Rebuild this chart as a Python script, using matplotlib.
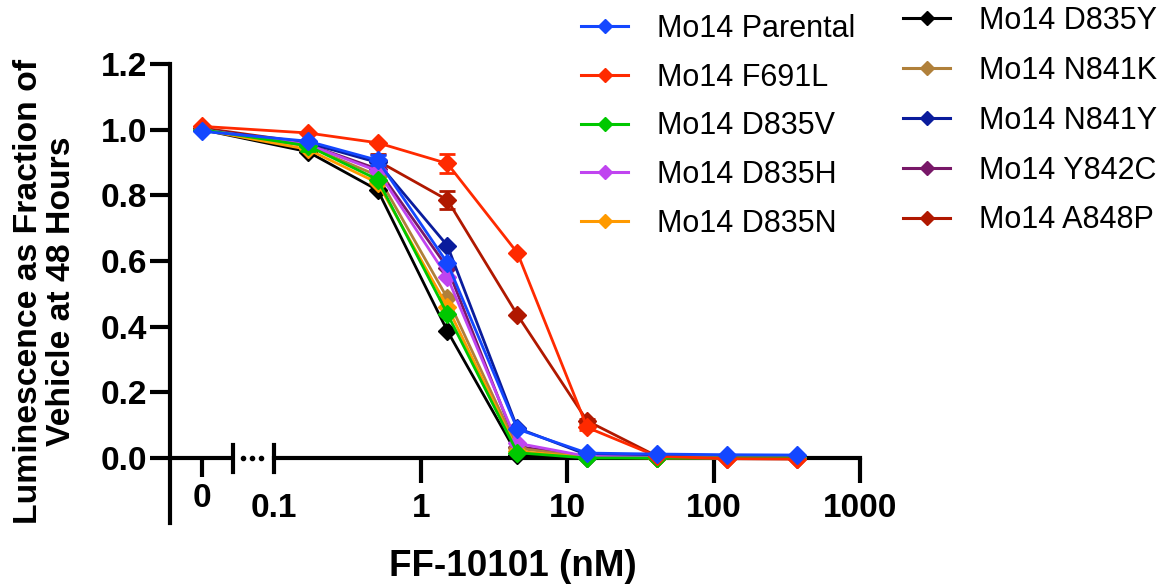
import numpy as np
import matplotlib
matplotlib.use("Agg")
import matplotlib.pyplot as plt
from matplotlib.ticker import FixedLocator, FixedFormatter
from matplotlib.lines import Line2D

plt.rcParams['font.family'] = ['Liberation Sans', 'DejaVu Sans']

# ---------------- data ----------------
conc = [0, 0.169, 0.508, 1.52, 4.57, 13.7, 41.2, 123.5, 370.4]

names = ["Mo14 Parental", "Mo14 F691L", "Mo14 D835V", "Mo14 D835H", "Mo14 D835N",
         "Mo14 D835Y", "Mo14 N841K", "Mo14 N841Y", "Mo14 Y842C", "Mo14 A848P"]
colors = ["#1447ff", "#ff2a00", "#00c800", "#c044f0", "#ff9a00",
          "#000000", "#b0803a", "#0a1c9c", "#781868", "#b01800"]

parental = [0.995, 0.965, 0.907, 0.594, 0.088, 0.015, 0.012, 0.010, 0.009]
f691l    = [1.010, 0.990, 0.960, 0.897, 0.625, 0.093, 0.005, -0.002, -0.003]
d835v    = [1.000, 0.951, 0.848, 0.439, 0.016, 0.000, 0.000, 0.000, 0.000]
d835h    = [1.000, 0.955, 0.874, 0.551, 0.045, 0.005, 0.002, 0.000, 0.000]
d835n    = [1.000, 0.940, 0.838, 0.461, 0.020, 0.002, 0.000, 0.000, 0.000]
d835y    = [1.000, 0.933, 0.816, 0.387, 0.010, 0.000, 0.000, 0.000, 0.000]
n841k    = [1.000, 0.950, 0.860, 0.487, 0.030, 0.003, 0.000, 0.000, 0.000]
n841y    = [1.000, 0.960, 0.900, 0.647, 0.091, 0.010, 0.005, 0.003, 0.002]
y842c    = [1.000, 0.955, 0.880, 0.580, 0.035, 0.005, 0.000, 0.000, 0.000]
a848p    = [1.005, 0.960, 0.905, 0.786, 0.436, 0.113, 0.005, -0.002, -0.003]

# standard errors (0 = not visible)
parental_err = [0, 0, 0.015, 0, 0, 0, 0, 0, 0]
f691l_err    = [0, 0, 0, 0.030, 0, 0.008, 0, 0, 0]
d835v_err    = [0, 0.016, 0, 0, 0, 0, 0, 0, 0]
a848p_err    = [0, 0, 0.020, 0.027, 0, 0.006, 0, 0, 0]

series = [parental, f691l, d835v, d835h, d835n, d835y, n841k, n841y, y842c, a848p]
errors = {0: parental_err, 1: f691l_err, 2: d835v_err, 9: a848p_err}

x_ticks = [0.1, 1, 10, 100, 1000]
x_ticklabels = ["0.1", "1", "10", "100", "1000"]
y_ticks = [0.0, 0.2, 0.4, 0.6, 0.8, 1.0, 1.2]

# ---------------- figure ----------------
W, H = 1165, 585
fig = plt.figure(figsize=(W / 100, H / 100), dpi=100)
ax = fig.add_axes([170 / W, 1 - 523 / H, 690 / W, 459 / H])

ax.set_xscale('symlog', linthresh=0.1, linscale=0.444)
ax.set_xlim(-0.0444, 1000)
ax.set_ylim(-0.198, 1.2)

n = len(series)
for i in reversed(range(n)):
    z = 10 + (n - i) * 2
    ax.plot(conc, series[i], color=colors[i], lw=2.0, marker='D', ms=9,
            mec=colors[i], mfc=colors[i], zorder=z, clip_on=False)
    if i in errors:
        err = np.array(errors[i])
        idx = err > 0
        ax.errorbar(np.array(conc)[idx], np.array(series[i])[idx], yerr=err[idx],
                    fmt='none', ecolor=colors[i], elinewidth=2.0, capsize=6,
                    capthick=2.0, zorder=z - 1, clip_on=False)

# spines
for s in ['top', 'right']:
    ax.spines[s].set_visible(False)
ax.spines['left'].set_linewidth(3)
ax.spines['bottom'].set_linewidth(3)
ax.spines['bottom'].set_position(('data', 0))
ax.spines['bottom'].set_bounds(0.1, 1000)

# left part of broken x axis + break marks
brk_lo, brk_hi = 0.043, 0.1
ax.plot([-0.0444, brk_lo], [0, 0], color='black', lw=3, clip_on=False,
        solid_capstyle='butt', zorder=5)
for xb in (brk_lo, brk_hi):
    ax.plot([xb, xb], [0.040, -0.043], color='black', lw=3, clip_on=False, zorder=5)
ax.plot([0.056, 0.0685, 0.081], [0, 0, 0], ls='none', marker='o', ms=3.0,
        color='black', clip_on=False, zorder=5)

# ticks
ax.xaxis.set_major_locator(FixedLocator(x_ticks))
ax.xaxis.set_major_formatter(FixedFormatter(x_ticklabels))
ax.xaxis.set_minor_locator(FixedLocator([0]))
ax.xaxis.set_minor_formatter(FixedFormatter(["0"]))
ax.tick_params(axis='x', which='major', length=18, width=3, pad=7, labelsize=24)
ax.tick_params(axis='x', which='minor', length=13.5, width=3, pad=4.5, labelsize=24)
ax.set_yticks(y_ticks)
ax.set_yticklabels([f"{v:.1f}" for v in y_ticks])
ax.tick_params(axis='y', length=14.5, width=3, pad=2, labelsize=24)
for lab in ax.get_xticklabels(which='both') + ax.get_yticklabels():
    lab.set_fontweight('bold')

# labels
fig.text(45 / W, 1 - 291 / H, "Luminescence as Fraction of\nVehicle at 48 Hours",
         rotation=90, ha='center', va='center', fontsize=24.3, fontweight='bold',
         linespacing=1.12)
fig.text(513 / W, 1 - 567 / H, "FF-10101 (nM)", ha='center', va='center',
         fontsize=26.5, fontweight='bold')

# legends (two columns)
handles = [Line2D([0], [0], color=c, lw=2.2, marker='D', ms=7.5) for c in colors]
leg1 = fig.legend(handles[:5], names[:5], loc='upper left',
                  bbox_to_anchor=(581 / W, 1 - 14 / H), frameon=False, fontsize=22,
                  handlelength=1.55, handletextpad=0.95, labelspacing=0.61,
                  borderpad=0, borderaxespad=0)
leg2 = fig.legend(handles[5:], names[5:], loc='upper left',
                  bbox_to_anchor=(903 / W, 1 - 6 / H), frameon=False, fontsize=22,
                  handlelength=1.55, handletextpad=0.95, labelspacing=0.65,
                  borderpad=0, borderaxespad=0)

ax.xaxis.get_major_ticks()[0].tick1line.set_visible(False)

fig.savefig("out.png", dpi=100)
